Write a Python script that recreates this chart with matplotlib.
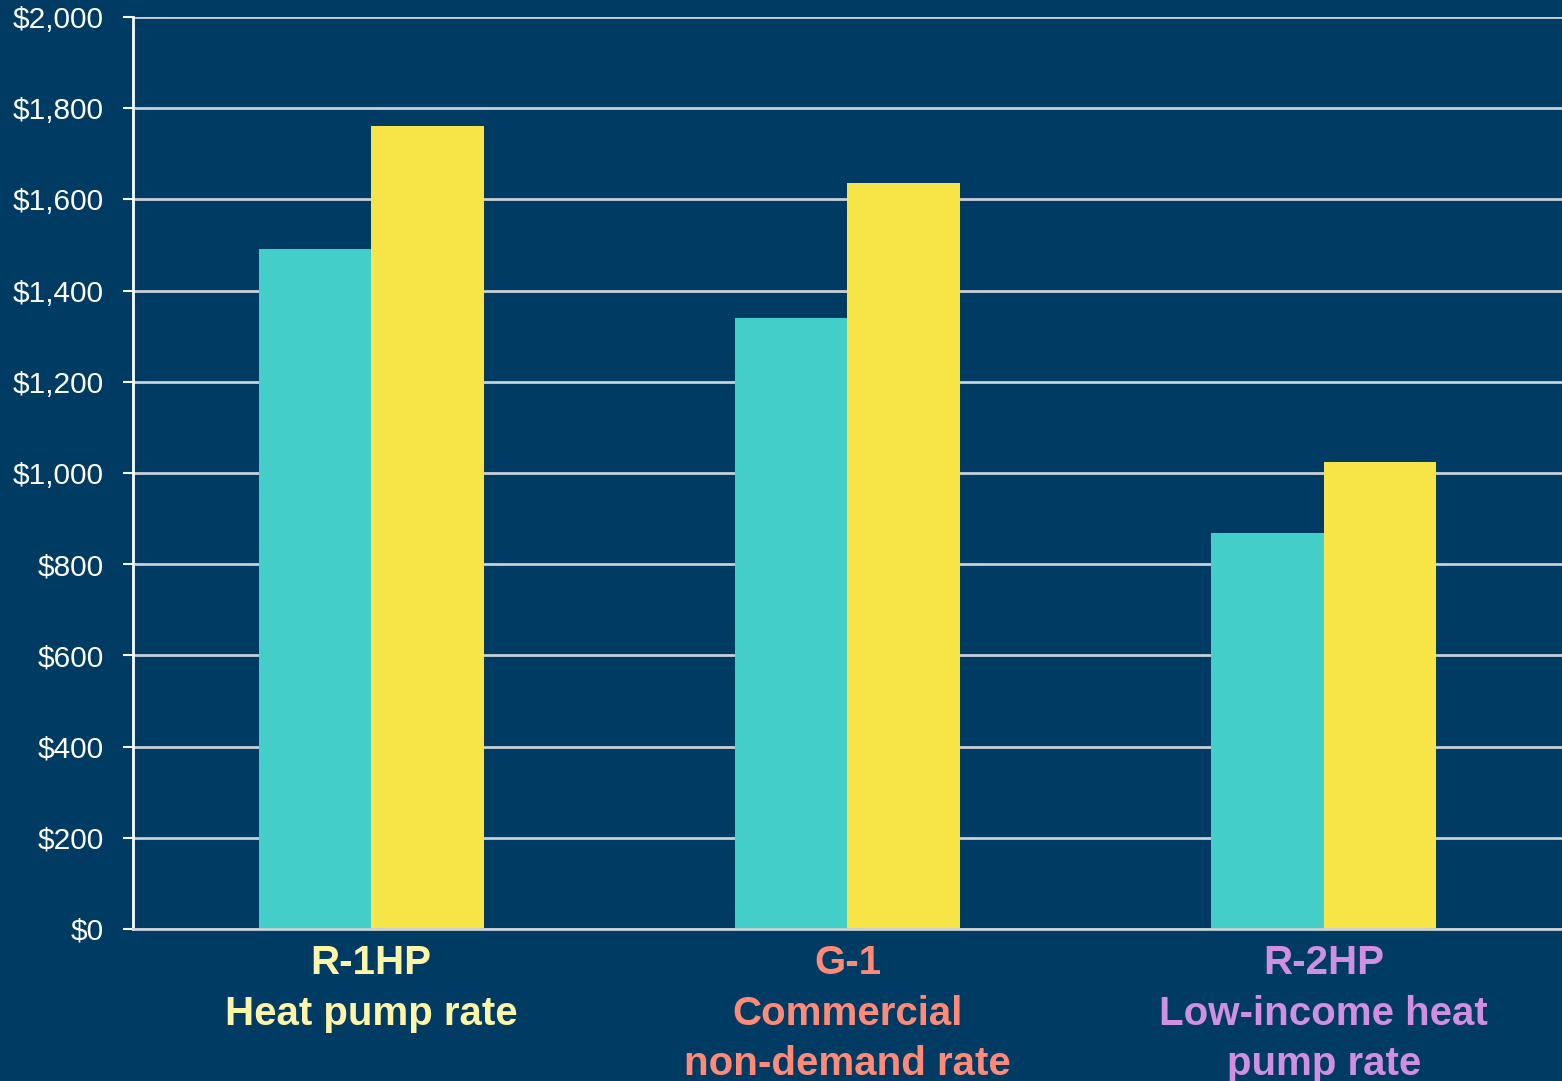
import matplotlib
matplotlib.use("Agg")
import matplotlib.pyplot as plt
import numpy as np

categories = ["R-1HP\nHeat pump rate", "G-1\nCommercial\nnon-demand rate", "R-2HP\nLow-income heat\npump rate"]
series_a = [1491, 1340, 868]
series_b = [1761, 1636, 1024]
yticks = [0, 200, 400, 600, 800, 1000, 1200, 1400, 1600, 1800, 2000]
label_colors = ["#FFF5A8", "#FF8A78", "#D08FE0"]

BG = "#003B63"
W, H = 1562, 1081
fig = plt.figure(figsize=(W/100, H/100), dpi=100, facecolor=BG)
ax = fig.add_axes([133/W, 1-929/H, (W-133)/W, (929-17)/H])
ax.set_facecolor(BG)

x = np.arange(len(categories))
bw = 0.236
ax.bar(x - bw/2, series_a, width=bw, color="#44CECA", zorder=3)
ax.bar(x + bw/2, series_b, width=bw, color="#F7E548", zorder=3)

ax.set_xlim(-0.5, 2.5)
ax.set_ylim(0, 2000)
ax.set_yticks(yticks)
ax.set_yticklabels([f"${v:,}" for v in yticks], fontsize=21.5, color="white",
                   fontfamily="Liberation Sans")
ax.tick_params(axis="y", length=7, width=1.5, color="white", pad=14)
ax.grid(axis="y", color="#C8D0D8", linewidth=2, zorder=1)
ax.set_axisbelow(True)

ax.set_xticks(x)
ax.set_xticklabels(categories, fontsize=29, fontweight="bold", fontfamily="Liberation Sans",
                   linespacing=1.42)
for lbl, c in zip(ax.get_xticklabels(), label_colors):
    lbl.set_color(c)
    lbl.set_verticalalignment("top")
ax.tick_params(axis="x", length=0, pad=11)

for s in ["top", "right"]:
    ax.spines[s].set_visible(False)
ax.spines["left"].set_color("white")
ax.spines["left"].set_linewidth(2)
ax.spines["bottom"].set_color("#C8D0D8")
ax.spines["bottom"].set_linewidth(2)
ax.spines["bottom"].set_zorder(4)

fig.savefig("out.png", dpi=100, facecolor=BG)
